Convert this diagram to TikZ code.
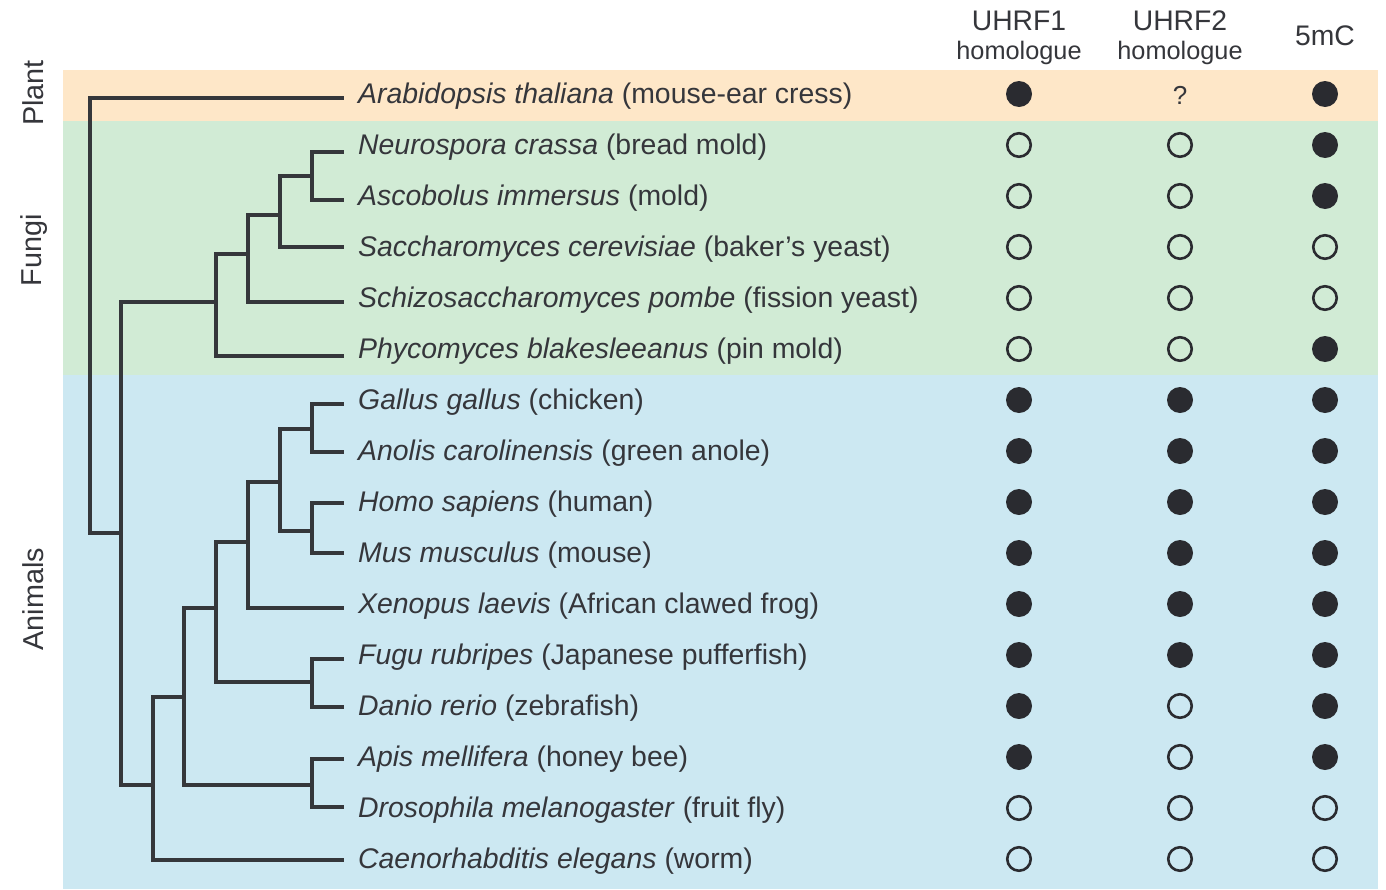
\documentclass[tikz,border=0pt]{standalone}
\usepackage{fontspec}
\setmainfont{Liberation Sans}
\begin{document}
\begin{tikzpicture}[x=1pt,y=-1pt,
  txt/.style={inner sep=0pt, text=txtgray, font=\fontsize{28.4}{32}\selectfont},
  taxon/.style={txt, anchor=base west},
  hdr/.style={txt, font=\fontsize{28.3}{30}\selectfont},
  hdrsmall/.style={txt, font=\fontsize{25.3}{28}\selectfont},
  grp/.style={txt, rotate=90, font=\fontsize{28.8}{32}\selectfont},
  branch/.style={draw=linegray, line width=3.2pt, line cap=rect, line join=miter},
  stF/.style={circle, inner sep=0pt, minimum size=26pt, fill=dotfill, draw=none},
  stO/.style={circle, inner sep=0pt, minimum size=23.5pt, fill=none, draw=dotfill, line width=2.6pt},
  qmark/.style={inner sep=0pt, text=txtgray, font=\fontsize{26}{28}\selectfont}
]
\definecolor{txtgray}{HTML}{35363B}
\definecolor{linegray}{HTML}{35373B}
\definecolor{dotfill}{HTML}{2A2B30}
\definecolor{plantbg}{HTML}{FEE7C8}
\definecolor{fungibg}{HTML}{D1EBD5}
\definecolor{animalbg}{HTML}{CCE8F2}
\useasboundingbox (0,0) rectangle (1386,889);
\fill[white] (0,0) rectangle (1386,889);
% bands
\fill[plantbg] (63,70) rectangle (1378,121);
\fill[fungibg] (63,121) rectangle (1378,375);
\fill[animalbg] (63,375) rectangle (1378,889);
% group labels
\node[grp] (gplant) at (33,93) {Plant};
\node[grp] (gfungi) at (34,250) {Fungi};
\node[grp] (ganim) at (33,599) {Animals};
% headers
\node[hdr] (h1) at (1019,21) {UHRF1};
\node[hdrsmall] (h1b) at (1019,53) {homologue};
\node[hdr] (h2) at (1180,21) {UHRF2};
\node[hdrsmall] (h2b) at (1180,53) {homologue};
\node[hdr] (h3) at (1325,36) {5mC};
% taxa
\foreach \i/\g/\c in {
 0/Arabidopsis thaliana/mouse-ear cress,
 1/Neurospora crassa/bread mold,
 2/Ascobolus immersus/mold,
 3/Saccharomyces cerevisiae/baker’s yeast,
 4/Schizosaccharomyces pombe/fission yeast,
 5/Phycomyces blakesleeanus/pin mold,
 6/Gallus gallus/chicken,
 7/Anolis carolinensis/green anole,
 8/Homo sapiens/human,
 9/Mus musculus/mouse,
 10/Xenopus laevis/African clawed frog,
 11/Fugu rubripes/Japanese pufferfish,
 12/Danio rerio/zebrafish,
 13/Apis mellifera/honey bee,
 14/Drosophila melanogaster/fruit fly,
 15/Caenorhabditis elegans/worm}
 {\node[taxon] (t\i) at (358,103+51*\i) {\textit{\g} (\c)};}
% leaf ends
\foreach \i/\y in {0/98,1/152,2/200,3/247,4/302,5/356,6/404,7/452,8/503,9/553,10/608,11/659,12/707,13/759,14/807,15/860}
 {\coordinate (L\i) at (342,\y);}
% internal nodes
\coordinate (root) at (90,533);
\coordinate (fa) at (121,533);
\coordinate (f1) at (312,176);
\coordinate (f2) at (280,215);
\coordinate (f3) at (248,254);
\coordinate (f4) at (216,302);
\coordinate (a1) at (312,429);
\coordinate (a2) at (312,531);
\coordinate (a3) at (280,482);
\coordinate (a4) at (248,542);
\coordinate (a5) at (312,682);
\coordinate (a6) at (216,608);
\coordinate (a7) at (312,785);
\coordinate (a8) at (184,697);
\coordinate (a9) at (153,785);
% branches
\draw[branch] (root) |- (L0);
\draw[branch] (root) -- (fa);
\draw[branch] (fa) |- (f4);
\draw[branch] (fa) |- (a9);
\draw[branch] (f4) |- (f3);
\draw[branch] (f4) |- (L5);
\draw[branch] (f3) |- (f2);
\draw[branch] (f3) |- (L4);
\draw[branch] (f2) |- (f1);
\draw[branch] (f2) |- (L3);
\draw[branch] (f1) |- (L1);
\draw[branch] (f1) |- (L2);
\draw[branch] (a9) |- (a8);
\draw[branch] (a9) |- (L15);
\draw[branch] (a8) |- (a6);
\draw[branch] (a8) |- (a7);
\draw[branch] (a7) |- (L13);
\draw[branch] (a7) |- (L14);
\draw[branch] (a6) |- (a4);
\draw[branch] (a6) |- (a5);
\draw[branch] (a5) |- (L11);
\draw[branch] (a5) |- (L12);
\draw[branch] (a4) |- (a3);
\draw[branch] (a4) |- (L10);
\draw[branch] (a3) |- (a1);
\draw[branch] (a3) |- (a2);
\draw[branch] (a1) |- (L6);
\draw[branch] (a1) |- (L7);
\draw[branch] (a2) |- (L8);
\draw[branch] (a2) |- (L9);
% dots
\node[stF] (u0) at (1019,94) {};
\node[qmark] (v0) at (1180,95) {?};
\node[stF] (w0) at (1325,94) {};
\foreach \i/\a/\b/\c in {1/O/O/F,2/O/O/F,3/O/O/O,4/O/O/O,5/O/O/F,6/F/F/F,7/F/F/F,8/F/F/F,9/F/F/F,10/F/F/F,11/F/F/F,12/F/O/F,13/F/O/F,14/O/O/O,15/O/O/O}
{
 \node[st\a] (u\i) at (1019,94+51*\i) {};
 \node[st\b] (v\i) at (1180,94+51*\i) {};
 \node[st\c] (w\i) at (1325,94+51*\i) {};
}
\end{tikzpicture}
\end{document}
